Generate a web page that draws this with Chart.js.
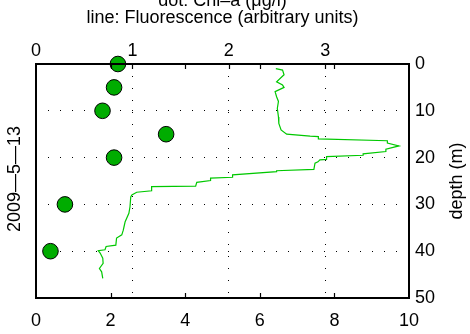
<!DOCTYPE html>
<html>
<head>
<meta charset="utf-8">
<title>Chl-a and fluorescence profile</title>
<script src="https://cdn.jsdelivr.net/npm/chart.js@4.4.1/dist/chart.umd.min.js"></script>
<style>
  html, body { margin: 0; padding: 0; background: #fff; }
  #wrap { position: relative; width: 470px; height: 334px; }
</style>
</head>
<body>
<div id="wrap"><canvas id="c" width="470" height="334"></canvas></div>
<script>
// Chl-a samples (dots): depth in m, concentration in µg/l
const chlDepth = [0, 5, 10, 15, 20, 30, 40];
const chlValue = [0.85, 0.81, 0.69, 1.35, 0.81, 0.30, 0.15];

// Fluorescence profile (line): depth in m, arbitrary units
const fluoDepth = [1.0, 1.3, 2.3, 3.8, 4.5, 5.0, 5.9, 7.0, 8.0, 9.5,
  11.3, 12.7, 14.1, 15.0, 15.4, 15.5, 16.0, 16.4, 16.9, 17.5,
  18.2, 18.7, 19.2, 19.5, 19.8, 20.4, 20.5, 20.9, 21.2, 22.5,
  22.8, 23.0, 23.7, 24.2, 24.4, 24.9, 25.3, 26.1, 26.2, 27.1,
  27.4, 28.0, 28.4, 30.5, 31.9, 33.7, 34.4, 35.5, 36.5, 37.2,
  38.7, 39.0, 39.7, 39.9, 40.4, 41.5, 42.6, 43.7, 44.4, 45.8];
const fluoValue = [6.43, 6.61, 6.65, 6.45, 6.61, 6.65, 6.41, 6.45, 6.50, 6.47,
  6.50, 6.51, 6.57, 6.72, 7.35, 7.57, 7.57, 9.42, 9.42, 9.73,
  9.38, 9.38, 8.77, 8.77, 7.79, 7.79, 7.61, 7.56, 7.48, 7.45,
  6.45, 6.45, 5.27, 5.27, 4.68, 4.68, 4.31, 4.28, 3.10, 3.10,
  2.70, 2.57, 2.54, 2.52, 2.49, 2.39, 2.37, 2.34, 2.30, 2.16,
  2.14, 1.88, 1.85, 1.67, 1.72, 1.79, 1.80, 1.70, 1.76, 1.79];

// Axis ranges and tick steps
const fluoRange = [0, 10];   const fluoStep = 2;
const chlRange = [0, 3.87];  const chlStep = 1;
const depthRange = [0, 50];  const depthStep = 10;

const titleLines = ['dot: Chl\u2013a (\u03bcg/l)', 'line: Fluorescence (arbitrary units)'];
const depthTitle = 'depth (m)';
const dateLabel = '2009\u20145\u201413';

const FONT = '"Liberation Sans", Arial, Helvetica, sans-serif';
const FSIZE = 18;

const chlPoints = chlDepth.map((d, i) => ({ x: chlValue[i], y: d }));
const fluoPoints = fluoDepth.map((d, i) => ({ x: fluoValue[i], y: d }));

// Frame, inward tick marks and the two rotated side labels
const decorations = {
  id: 'decorations',
  afterDatasetsDraw(chart) {
    const { ctx, chartArea: a, scales } = chart;
    const len = 5;
    ctx.save();
    ctx.strokeStyle = '#000';
    ctx.lineWidth = 1.2;
    ctx.beginPath();
    const bx = scales.x;
    bx.ticks.forEach(t => {
      if (t.value <= bx.min || t.value >= bx.max) return;
      const px = Math.round(bx.getPixelForValue(t.value)) + 0.5;
      ctx.moveTo(px, a.bottom); ctx.lineTo(px, a.bottom - len);
      ctx.moveTo(px, a.top); ctx.lineTo(px, a.top + len);
    });
    const tx = scales.xTop;
    tx.ticks.forEach(t => {
      if (t.value <= tx.min || t.value >= tx.max) return;
      const px = Math.round(tx.getPixelForValue(t.value)) + 0.5;
      ctx.moveTo(px, a.top); ctx.lineTo(px, a.top + len);
    });
    ctx.stroke();
    ctx.lineWidth = 2;
    ctx.strokeRect(a.left, a.top, a.right - a.left, a.bottom - a.top);
    ctx.restore();
  },
  afterDraw(chart) {
    const { ctx, chartArea: a } = chart;
    const cy = (a.top + a.bottom) / 2;
    ctx.save();
    ctx.fillStyle = '#000';
    ctx.font = FSIZE + 'px ' + FONT;
    ctx.textAlign = 'center';
    ctx.textBaseline = 'middle';
    ctx.translate(a.right + 48, cy);
    ctx.rotate(-Math.PI / 2);
    ctx.fillText(depthTitle, 0, 0);
    ctx.restore();
    ctx.save();
    ctx.fillStyle = '#000';
    ctx.font = FSIZE + 'px ' + FONT;
    ctx.textAlign = 'center';
    ctx.textBaseline = 'middle';
    ctx.translate(a.left - 21, cy - 2);
    ctx.rotate(-Math.PI / 2);
    ctx.fillText(dateLabel, 0, 0);
    ctx.restore();
  }
};

const tickFont = { family: FONT, size: FSIZE };

new Chart(document.getElementById('c'), {
  type: 'scatter',
  data: {
    datasets: [
      {
        label: 'Chl-a',
        data: chlPoints,
        xAxisID: 'xTop',
        yAxisID: 'y',
        showLine: false,
        pointRadius: 7.8,
        pointHoverRadius: 7.8,
        pointBackgroundColor: 'rgb(0,172,0)',
        pointBorderColor: '#000',
        pointBorderWidth: 1,
        clip: false
      },
      {
        label: 'Fluorescence',
        data: fluoPoints,
        xAxisID: 'x',
        yAxisID: 'y',
        showLine: true,
        borderColor: 'rgb(0,200,0)',
        borderWidth: 1.2,
        pointRadius: 0,
        pointHoverRadius: 0,
        tension: 0,
        fill: false
      }
    ]
  },
  options: {
    responsive: false,
    animation: false,
    devicePixelRatio: 1,
    layout: { padding: { left: 36, right: 0, top: 0, bottom: 0 } },
    plugins: {
      legend: { display: false },
      tooltip: { enabled: false },
      title: {
        display: true,
        fullSize: false,
        text: titleLines,
        color: '#000',
        font: { family: FONT, size: FSIZE, weight: 'normal', lineHeight: '16.5px' },
        padding: { top: -7, bottom: 8 }
      }
    },
    scales: {
      x: {
        type: 'linear',
        position: 'bottom',
        min: fluoRange[0],
        max: fluoRange[1],
        ticks: { stepSize: fluoStep, padding: 12, color: '#000', font: tickFont, maxRotation: 0, autoSkip: false, includeBounds: false },
        grid: { display: false, drawTicks: false },
        border: { display: false },
        afterFit: s => { s.height = 36; }
      },
      xTop: {
        type: 'linear',
        position: 'top',
        min: chlRange[0],
        max: chlRange[1],
        ticks: { stepSize: chlStep, padding: 2, color: '#000', font: tickFont, maxRotation: 0, autoSkip: false, includeBounds: false },
        grid: { display: true, drawTicks: false, color: '#000', lineWidth: 1 },
        border: { display: false, dash: [1, 11] },
        afterFit: s => { s.height = 30; }
      },
      y: {
        type: 'linear',
        position: 'right',
        reverse: true,
        min: depthRange[0],
        max: depthRange[1],
        ticks: { stepSize: depthStep, padding: 6, color: '#000', font: tickFont, autoSkip: false },
        grid: { display: true, drawTicks: false, color: '#000', lineWidth: 1 },
        border: { display: false, dash: [1, 11] },
        afterFit: s => { s.width = 61; }
      }
    }
  },
  plugins: [decorations]
});
</script>
</body>
</html>
